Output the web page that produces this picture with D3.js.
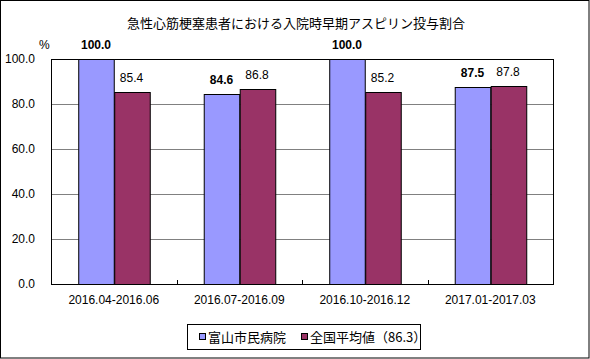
<!DOCTYPE html>
<html>
<head>
<meta charset="utf-8">
<script src="https://cdn.jsdelivr.net/npm/d3@7"></script>
<style>
  body { margin: 0; background: #fff; }
  svg text { font-family: "Liberation Sans", "Noto Sans CJK JP", sans-serif; }
</style>
</head>
<body>
<svg id="chart" width="590" height="359"></svg>
<script>
const periods = ["2016.04-2016.06", "2016.07-2016.09", "2016.10-2016.12", "2017.01-2017.03"];
const seriesNames = ["富山市民病院", "全国平均値（86.3）"];
const hospital = [100.0, 84.6, 100.0, 87.5];
const national = [85.4, 86.8, 85.2, 87.8];
const yTicks = [0, 20, 40, 60, 80, 100];
const colors = ["#9999ff", "#993366"];

const W = 590, H = 359;
const margin = { left: 51, right: 37, top: 59, bottom: 75 };
const svg = d3.select("#chart");

// frame
svg.append("rect").attr("x", 0.5).attr("y", 0.5).attr("width", W - 1.5).attr("height", H - 1.5)
  .attr("fill", "#fff").attr("stroke", "#000");

svg.append("text").attr("x", 296).attr("y", 28).attr("text-anchor", "middle")
  .style("font-family", "'Noto Sans CJK JP', sans-serif").style("font-size", "13px")
  .text("急性心筋梗塞患者における入院時早期アスピリン投与割合");

const x0 = d3.scaleBand().domain(periods)
  .range([margin.left, W - margin.right]).paddingInner(0.434).paddingOuter(0.217);
const x1 = d3.scaleBand().domain([0, 1]).range([0, x0.bandwidth()]);
const y = d3.scaleLinear().domain([0, 100]).range([H - margin.bottom, margin.top]);

// grid
svg.append("g").selectAll("line").data(yTicks.filter(d => d > 0 && d < 100)).join("line")
  .attr("x1", margin.left).attr("x2", W - margin.right)
  .attr("y1", d => Math.round(y(d)) + 0.5).attr("y2", d => Math.round(y(d)) + 0.5)
  .attr("stroke", "#808080");

// plot border
svg.append("rect").attr("x", margin.left + 0.5).attr("y", Math.round(y(100)) + 0.5)
  .attr("width", W - margin.right - margin.left).attr("height", Math.round(y(0)) - Math.round(y(100)))
  .attr("fill", "none").attr("stroke", "#000");

// bars
const rows = periods.map((p, i) => ({ p, v: [hospital[i], national[i]] }));
const grp = svg.append("g").selectAll("g").data(rows).join("g")
  .attr("transform", d => `translate(${x0(d.p)},0)`);
grp.selectAll("rect").data(d => d.v.map((v, k) => ({ v, k }))).join("rect")
  .attr("x", d => Math.round(x1(d.k)) + 0.5).attr("y", d => Math.round(y(d.v)) + 0.5)
  .attr("width", x1.bandwidth()).attr("height", d => Math.round(y(0)) - Math.round(y(d.v)))
  .attr("fill", d => colors[d.k]).attr("stroke", "#000");
grp.selectAll("text").data(d => d.v.map((v, k) => ({ v, k }))).join("text")
  .attr("x", d => x1(d.k) + x1.bandwidth() / 2).attr("y", d => y(d.v) - 10)
  .attr("text-anchor", "middle").style("font-size", "12px")
  .style("font-weight", d => d.k === 0 ? "bold" : "normal")
  .text(d => d.v.toFixed(1));

// x ticks (category boundaries)
const bounds = periods.slice(1).map(p => x0(p) - x0.step() * x0.paddingInner() / 2);
svg.append("g").selectAll("line").data(bounds).join("line")
  .attr("x1", d => Math.round(d) + 0.5).attr("x2", d => Math.round(d) + 0.5)
  .attr("y1", y(0)).attr("y2", y(0) - 4).attr("stroke", "#000");

// axes labels
const yAxis = d3.axisLeft(y).tickValues(yTicks).tickSize(0).tickPadding(16).tickFormat(d3.format(".1f"));
svg.append("g").attr("transform", `translate(${margin.left},0)`).call(yAxis)
  .call(g => g.select(".domain").remove())
  .selectAll("text").style("font-size", "12px").style("font-family", "'Liberation Sans', sans-serif");

const xAxis = d3.axisBottom(x0).tickSize(0).tickPadding(11);
svg.append("g").attr("transform", `translate(0,${y(0)})`).call(xAxis)
  .call(g => g.select(".domain").remove())
  .selectAll("text").style("font-size", "12px").style("font-family", "'Liberation Sans', sans-serif");

svg.append("text").attr("x", 39).attr("y", 49).style("font-size", "12px").text("%");

// legend
const lg = svg.append("g");
lg.append("rect").attr("x", 187.5).attr("y", 324.5).attr("width", 233).attr("height", 25)
  .attr("fill", "#fff").attr("stroke", "#000");
const lx = [199, 301];
seriesNames.forEach((n, k) => {
  lg.append("rect").attr("x", lx[k] + 0.5).attr("y", 333.5).attr("width", 6).attr("height", 6)
    .attr("fill", colors[k]).attr("stroke", "#000");
  lg.append("text").attr("x", lx[k] + 9).attr("y", 342)
    .style("font-family", "'Noto Sans CJK JP', sans-serif").style("font-size", "13px").text(n);
});
</script>
</body>
</html>
